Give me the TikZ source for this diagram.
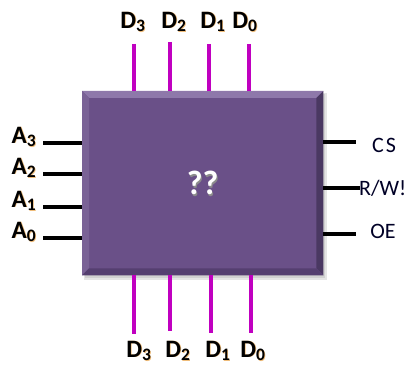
\documentclass[tikz,border=0pt]{standalone}
\usepackage{fontspec}
\setmainfont{Carlito}
\definecolor{boxmid}{HTML}{6A5088}
\definecolor{boxtop}{HTML}{8E78AA}
\definecolor{boxleft}{HTML}{7A6296}
\definecolor{boxright}{HTML}{4A3862}
\definecolor{boxbot}{HTML}{553F70}
\definecolor{pinmag}{HTML}{C000C0}
\definecolor{glow}{HTML}{E8A040}
\tikzset{
  pinblk/.style={line width=3.6pt, black},
  pinmg/.style={line width=3.6pt, pinmag},
  lbl/.style={font=\bfseries\fontsize{25}{25}\selectfont, inner sep=0pt, text=black},
  sig/.style={font=\fontsize{22}{22}\selectfont, inner sep=0pt, text=black!85!blue},
}
\newcommand{\gl}[3]{% name, position, text
  \node[lbl, text=glow!70] at ([xshift=0.7pt,yshift=-0.7pt]#2) {#3};
  \node[lbl] (#1) at (#2) {#3};}
\begin{document}
\begin{tikzpicture}[x=1pt,y=-1pt]
\useasboundingbox (0,0) rectangle (410,369);
% shadow
\fill[black!10] (84,93) rectangle (327,280);
\fill[black!18] (85,94) rectangle (325,278);
% chip
\node[draw=none, fill=boxmid, minimum width=241pt, minimum height=184pt, inner sep=0pt, anchor=north west] (chip) at (82,91) {};
\fill[boxtop] (chip.north west) -- (chip.north east) -- ([xshift=-7pt,yshift=-7pt]chip.north east) -- ([xshift=7pt,yshift=-7pt]chip.north west) -- cycle;
\fill[boxleft] (chip.north west) -- ([xshift=7pt,yshift=-7pt]chip.north west) -- ([xshift=7pt,yshift=7pt]chip.south west) -- (chip.south west) -- cycle;
\fill[boxright] (chip.north east) -- ([xshift=-7pt,yshift=-7pt]chip.north east) -- ([xshift=-7pt,yshift=7pt]chip.south east) -- (chip.south east) -- cycle;
\fill[boxbot] (chip.south west) -- ([xshift=7pt,yshift=7pt]chip.south west) -- ([xshift=-7pt,yshift=7pt]chip.south east) -- (chip.south east) -- cycle;
\node[font=\bfseries\fontsize{34}{34}\selectfont, text=black!45] at ([xshift=1pt,yshift=-1.2pt]chip.center) {??};
\node[font=\bfseries\fontsize{34}{34}\selectfont, text=white] (q) at (chip.center) {??};
% top data pins
\foreach \x/\y/\n in {134/44/3,170/42/2,209/44/1,249/44/0}{
  \coordinate (t\n) at (\x,\y);
  \draw[pinmg] (t\n) -- (t\n |- chip.north);
}
\gl{td3}{133,22}{D\textsubscript{3}}
\gl{td2}{174,22}{D\textsubscript{2}}
\gl{td1}{213,22}{D\textsubscript{1}}
\gl{td0}{245,22}{D\textsubscript{0}}
% bottom data pins
\foreach \x/\y/\n in {134/334/3,170/331/2,211/333/1,251/333/0}{
  \coordinate (b\n) at (\x,\y);
  \draw[pinmg] (chip.south -| b\n) -- (b\n);
}
\gl{bd3}{139,351}{D\textsubscript{3}}
\gl{bd2}{178,351}{D\textsubscript{2}}
\gl{bd1}{218,351}{D\textsubscript{1}}
\gl{bd0}{253,351}{D\textsubscript{0}}
% address pins
\foreach \y/\n in {143/3,174/2,207/1,238/0}{
  \coordinate (a\n) at (43,\y);
  \draw[pinblk] (a\n) -- (a\n -| chip.west);
}
\gl{la3}{24,137}{A\textsubscript{3}}
\gl{la2}{24,168}{A\textsubscript{2}}
\gl{la1}{24,201}{A\textsubscript{1}}
\gl{la0}{24,232}{A\textsubscript{0}}
% control pins
\coordinate (cs) at (356,142);
\coordinate (rw) at (360,188);
\coordinate (oe) at (356,234);
\draw[pinblk] (chip.east |- cs) -- (cs);
\draw[pinblk] (chip.east |- rw) -- (rw);
\draw[pinblk] (chip.east |- oe) -- (oe);
\node[sig] (lcs) at (384,145) {C\hspace{2pt}S};
\node[sig, anchor=west] (lrw) at (359,188) {R/W!};
\node[sig] (loe) at (383,231) {OE};
\end{tikzpicture}
\end{document}
